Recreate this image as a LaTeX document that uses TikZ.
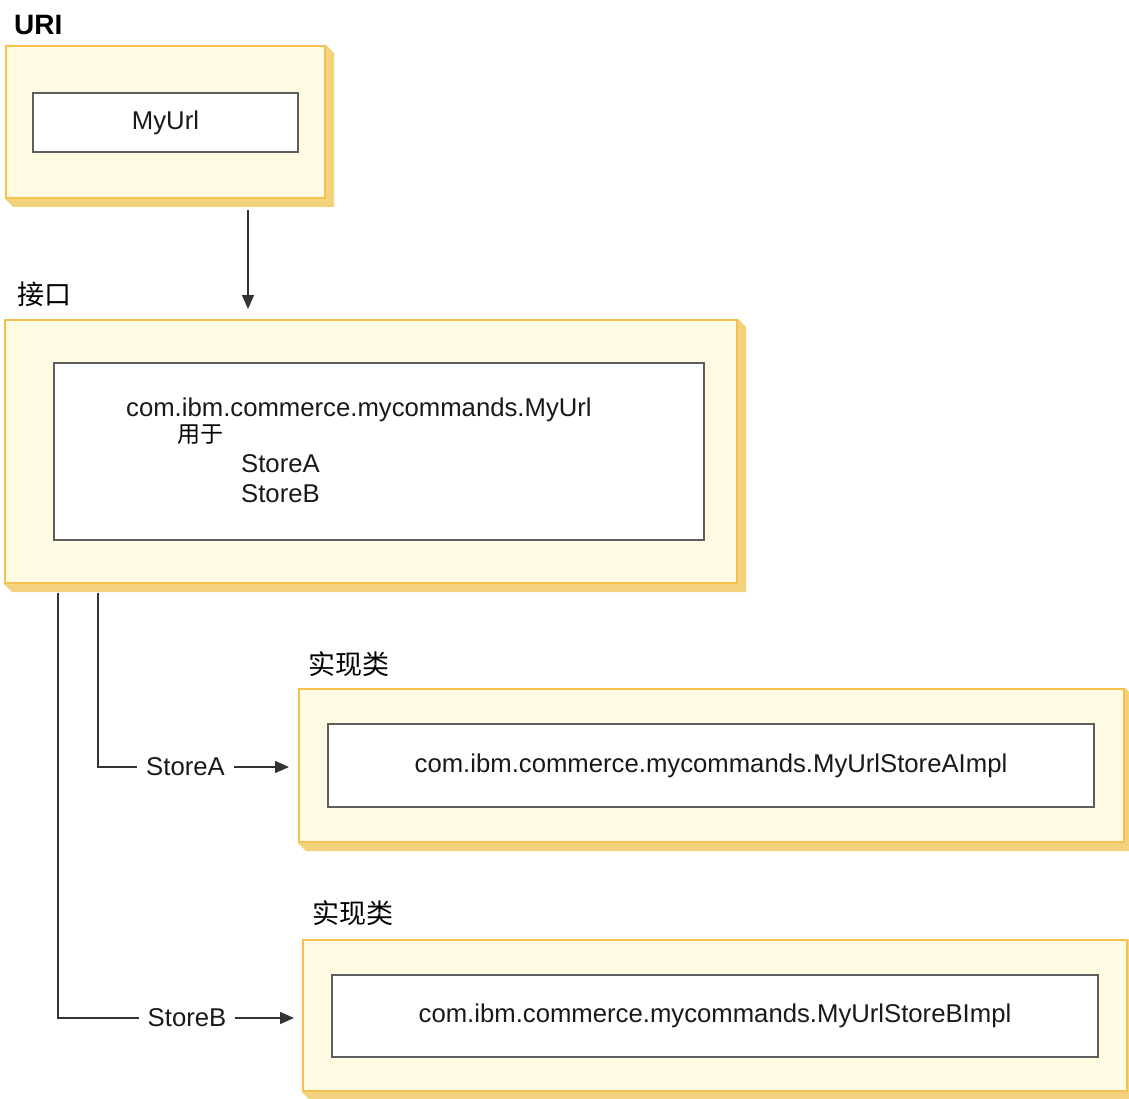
\documentclass[tikz,border=0pt]{standalone}
\usepackage{fontspec}
\setmainfont{Liberation Sans}
\newfontfamily\cjk{Noto Sans CJK SC}
\usetikzlibrary{arrows.meta,positioning,backgrounds}

\definecolor{boxfill}{HTML}{FFFBE3}
\definecolor{boxedge}{HTML}{F5C04E}
\definecolor{boxshade}{HTML}{F2D27C}
\definecolor{inneredge}{HTML}{5E5E5E}
\definecolor{wirecol}{HTML}{333333}

\tikzset{
  outerbox/.style={draw=boxedge, fill=boxfill, line width=2pt, inner sep=0pt},
  innerbox/.style={draw=inneredge, fill=white, line width=1.4pt, inner sep=0pt},
  code/.style={font=\fontsize{25.7}{30}\selectfont, text=black!90, inner sep=0pt},
  heading/.style={font=\cjk\fontsize{27}{30}\selectfont, inner sep=0pt},
  wire/.style={draw=wirecol, line width=1.3pt},
  tip/.style={-{Triangle[length=14pt,width=12pt]}},
}

% bevelled shadow to the lower right of an outer box
\newcommand{\boxshadow}[1]{%
  \begin{scope}[on background layer]
    \fill[boxshade] (#1.north east) -- ([shift={(8pt,-8pt)}]#1.north east)
      -- ([shift={(8pt,-8pt)}]#1.south east) -- ([shift={(8pt,-8pt)}]#1.south west)
      -- (#1.south west) -- (#1.south east) -- cycle;
  \end{scope}}

\begin{document}
\begin{tikzpicture}[x=1pt, y=-1pt]
  \useasboundingbox (0,0) rectangle (1129,1099);

  % URI
  \node[anchor=west, inner sep=0pt, font=\bfseries\fontsize{28}{32}\selectfont] (urilbl) at (14,25) {URI};
  \node[outerbox, minimum width=319pt, minimum height=152pt] (uri) at (165.5,122) {};
  \boxshadow{uri}
  \node[innerbox, code, minimum width=265pt, minimum height=59pt] (myurl) at (165.5,122.5) {MyUrl};

  % interface
  \node[heading, anchor=west] (ifacelbl) at (17,294) {接口};
  \node[outerbox, minimum width=732pt, minimum height=263pt] (iface) at (371,451.5) {};
  \boxshadow{iface}
  \node[innerbox, minimum width=650pt, minimum height=177pt] (ifacein) at (379,451.5) {};
  \node[code, anchor=base west] (cls) at (126,416) {com.ibm.commerce.mycommands.MyUrl};
  \node[heading, font=\cjk\fontsize{23}{26}\selectfont, anchor=base west] (usedfor) at (177,442) {用于};
  \node[code, anchor=base west] (useA) at (241,472) {StoreA};
  \node[code, anchor=base west] (useB) at (241,502) {StoreB};

  \draw[wire, tip, shorten <=11pt, shorten >=10pt] ([xshift=82.5pt]uri.south) -- ([xshift=-123pt]iface.north);

  % StoreA implementation
  \node[heading, anchor=west] (implAlbl) at (308,664) {实现类};
  \node[outerbox, minimum width=825pt, minimum height=153pt] (implA) at (711.5,765.5) {};
  \boxshadow{implA}
  \node[innerbox, code, minimum width=766pt, minimum height=83pt] (implAin) at (711,765.5) {com.ibm.commerce.mycommands.MyUrlStoreAImpl};

  % StoreB implementation
  \node[heading, anchor=west] (implBlbl) at (312,913) {实现类};
  \node[outerbox, minimum width=824pt, minimum height=151pt] (implB) at (715,1015.5) {};
  \boxshadow{implB}
  \node[innerbox, code, minimum width=766pt, minimum height=82pt] (implBin) at (715,1016) {com.ibm.commerce.mycommands.MyUrlStoreBImpl};

  % routing
  \node[code, inner xsep=9pt] (lblA) at (185.5,767) {StoreA};
  \node[code, inner xsep=9pt] (lblB) at (187,1018) {StoreB};

  \draw[wire] ([shift={(94pt,-9pt)}]iface.south west) |- (lblA.west);
  \draw[wire] ([shift={(54pt,-9pt)}]iface.south west) |- (lblB.west);
  \draw[wire, tip, shorten >=9pt] (lblA.east) -- (lblA.east -| implA.west);
  \draw[wire, tip, shorten >=8pt] (lblB.east) -- (lblB.east -| implB.west);
\end{tikzpicture}
\end{document}
